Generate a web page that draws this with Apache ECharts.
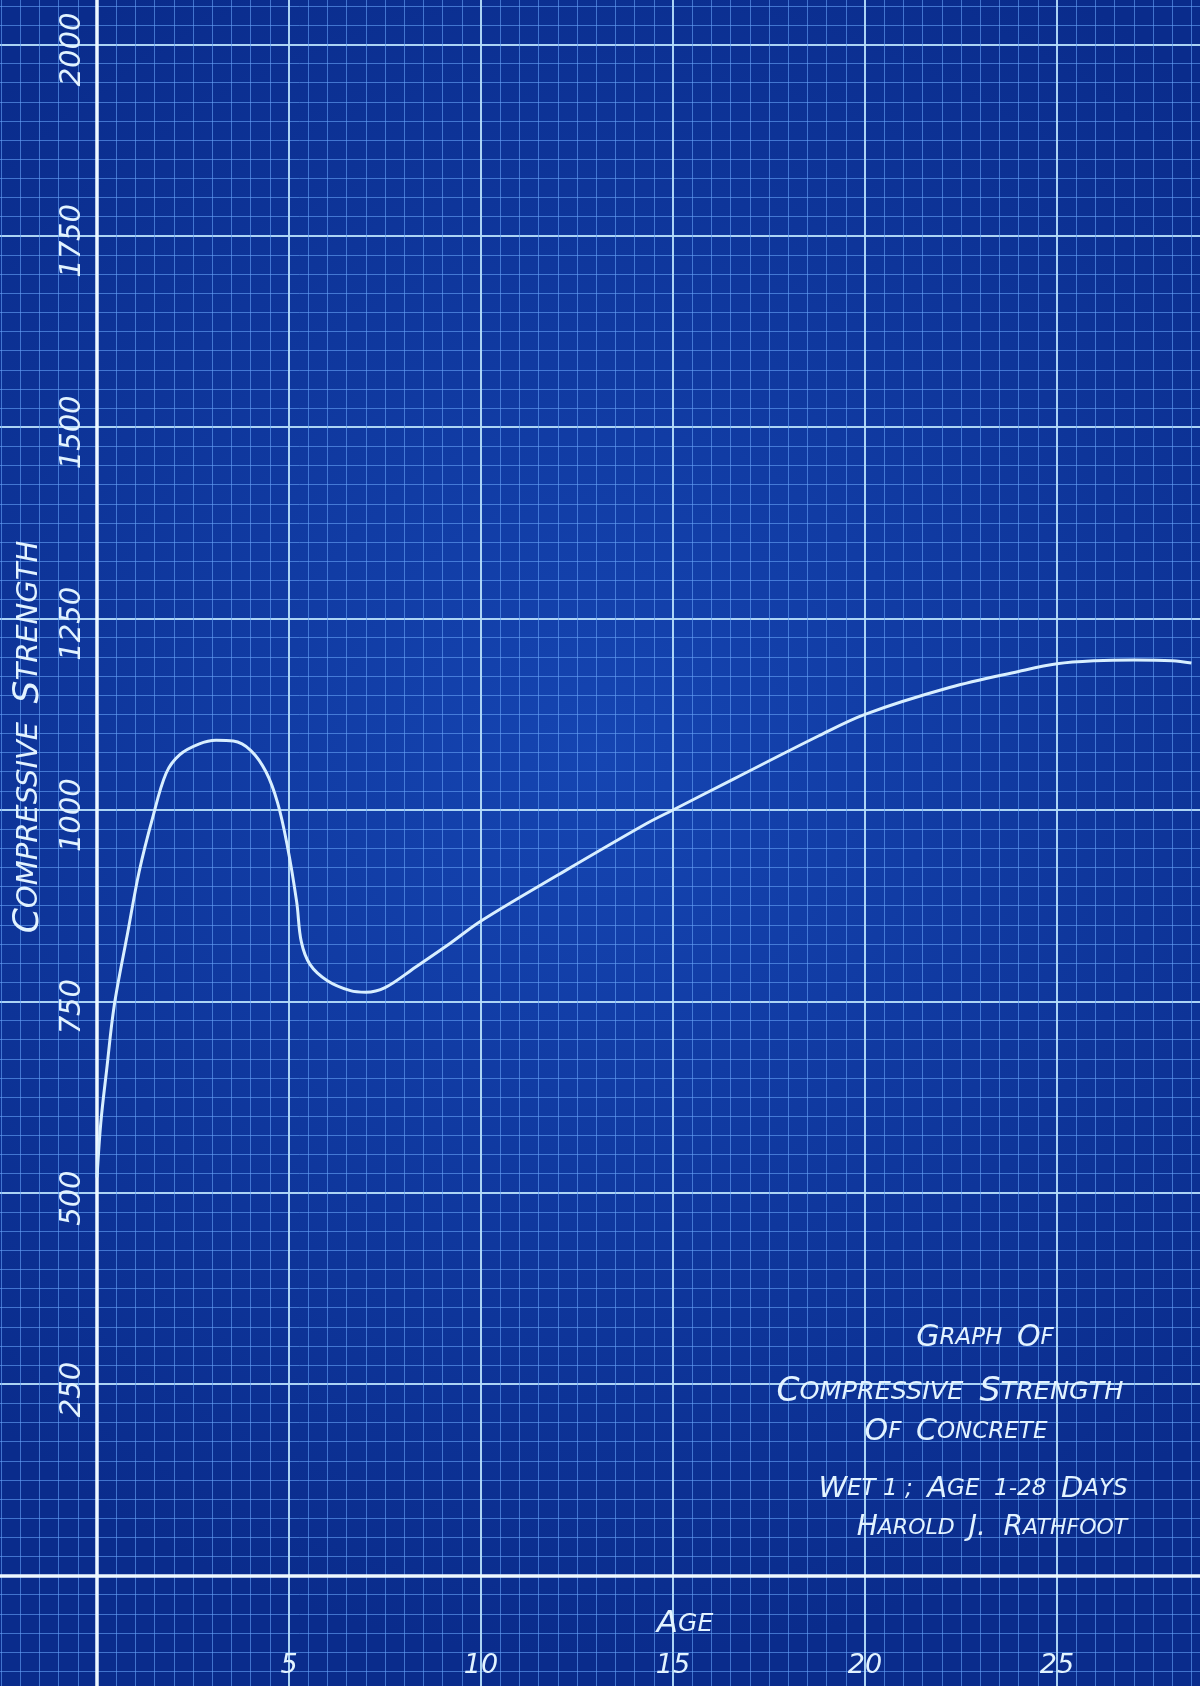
<!DOCTYPE html>
<html>
<head>
<meta charset="utf-8">
<script src="https://cdn.jsdelivr.net/npm/echarts@6/dist/echarts.min.js"></script>
<style>
  html, body { margin: 0; padding: 0; background: #0d318f; }
  #chart { width: 1200px; height: 1686px; }
</style>
</head>
<body>
<div id="chart"></div>
<script>
// Compressive strength of concrete, blueprint graph paper (age in days vs strength)
const ages = [0, 0.1, 0.25, 0.45, 0.8, 1.1, 1.45, 1.8, 2.15, 2.65, 3.1, 3.55, 4.0, 4.4, 4.7,
  4.95, 5.2, 5.32, 5.55, 6.0, 6.6, 7.0, 7.5, 8.3, 9.2, 10, 12, 14.3, 15, 16.6, 18.8, 20,
  22.2, 24, 25, 26, 27, 28, 28.5];
const strength = [520, 592, 660, 745, 840, 920, 990, 1048, 1072, 1086, 1091, 1090, 1078, 1050, 1010,
  955, 880, 828, 798, 777, 764, 762, 768, 795, 826, 855, 915, 982, 1000, 1041, 1097, 1125,
  1160, 1181, 1191, 1195, 1196, 1195, 1192];

const dayTicks = [5, 10, 15, 20, 25];
const strengthTicks = [250, 500, 750, 1000, 1250, 1500, 1750, 2000];

const INK = '#e2f3ff';
const MINOR = 'rgba(100,160,245,0.62)';
const MAJOR = 'rgba(180,220,250,0.95)';
const FONT = '"DejaVu Sans", sans-serif';

// hand-lettered small caps: big initials, smaller rest
const rich = (big, small) => ({
  b: { fontSize: big, fontStyle: 'italic', fill: INK, fontFamily: FONT },
  s: { fontSize: small, fontStyle: 'italic', fill: INK, fontFamily: FONT },
});
const lettering = (x, y, text, big, small, rotation) => ({
  type: 'text', x, y, rotation: rotation || 0, z: 10,
  style: { text, rich: rich(big, small), align: 'center', verticalAlign: 'middle' },
});

const rulings = {
  axisLine: { show: false }, axisTick: { show: false }, axisLabel: { show: false },
  splitLine: { lineStyle: { color: MAJOR, width: 2 } },
  minorTick: { show: false, splitNumber: 10 },
  minorSplitLine: { show: true, lineStyle: { color: MINOR, width: 1 } },
};
const labelStyle = { color: INK, fontStyle: 'italic', fontFamily: FONT };

const chart = echarts.init(document.getElementById('chart'));

chart.setOption({
  animation: false,
  backgroundColor: new echarts.graphic.RadialGradient(0.5, 0.45, 0.75, [
    { offset: 0, color: '#1545b2' },
    { offset: 1, color: '#0a2c8c' },
  ]),
  grid: [
    // the sheet runs past the page edges so the rulings start on whole ticks
    { left: -95, right: -49, top: -147, bottom: -81, outerBoundsMode: 'none', containLabel: false },
    // same scale, origin at the inked axes: carries the tick numbers
    { left: 97, right: -49, top: -147, bottom: 110, outerBoundsMode: 'none', containLabel: false },
  ],
  xAxis: [
    { gridIndex: 0, type: 'value', min: -5, max: 30, interval: 5, ...rulings },
    {
      gridIndex: 1, type: 'value', min: 0, max: 30, interval: 5,
      axisLine: { show: false }, axisTick: { show: false }, splitLine: { show: false },
      axisLabel: { ...labelStyle, fontSize: 27, margin: 76, formatter: v => dayTicks.includes(v) ? String(v) : '' },
    },
  ],
  yAxis: [
    { gridIndex: 0, type: 'value', min: -250, max: 2250, interval: 250, ...rulings },
    {
      gridIndex: 1, type: 'value', min: 0, max: 2250, interval: 250,
      axisLine: { show: false }, axisTick: { show: false }, splitLine: { show: false },
      axisLabel: {
        ...labelStyle, fontSize: 29, rotate: 90, margin: 10, padding: [0, 10, 0, 0],
        formatter: v => strengthTicks.includes(v) ? String(v) : '',
      },
    },
  ],
  graphic: [
    lettering(29, 737, '{b|C}{s|OMPRESSIVE  }{b|S}{s|TRENGTH}', 36, 29, Math.PI / 2),
    lettering(685, 1624, '{b|A}{s|GE}', 31, 25),
    lettering(985, 1338, '{b|G}{s|RAPH  }{b|O}{s|F}', 30, 23),
    lettering(950, 1392, '{b|C}{s|OMPRESSIVE  }{b|S}{s|TRENGTH}', 33, 25.5),
    lettering(956, 1432, '{b|O}{s|F  }{b|C}{s|ONCRETE}', 30, 23),
    lettering(973, 1489, '{b|W}{s|ET 1 ;  }{b|A}{s|GE  1-28  }{b|D}{s|AYS}', 29, 23),
    lettering(992, 1528, '{b|H}{s|AROLD  }{b|J.  R}{s|ATHFOOT}', 28, 22),
  ],
  series: [{
    type: 'line',
    xAxisIndex: 0, yAxisIndex: 0,
    data: ages.map((a, i) => [a, strength[i]]),
    smooth: 0.35,
    symbol: 'none',
    lineStyle: { color: '#d8efff', width: 3 },
    z: 5,
    // the two inked axis lines run across the whole sheet
    markLine: {
      silent: true, symbol: 'none', label: { show: false },
      lineStyle: { color: '#eef8ff', width: 3.5, type: 'solid' },
      data: [{ xAxis: 0 }, { yAxis: 0 }],
    },
  }],
});
</script>
</body>
</html>
